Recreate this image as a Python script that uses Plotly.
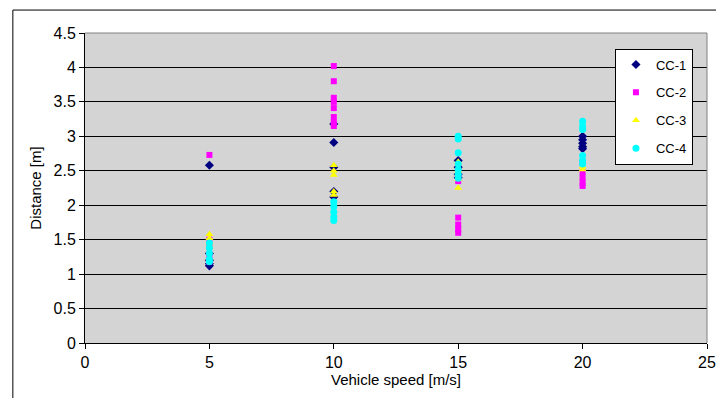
import plotly.graph_objects as go

series_names = ["CC-1", "CC-2", "CC-3", "CC-4"]

cc1_x = [5, 5, 5, 5, 5, 10, 10, 10, 10, 10, 15, 15, 15, 15, 20, 20, 20, 20, 20]
cc1_y = [2.58, 1.12, 1.15, 1.2, 1.3, 3.18, 2.91, 2.2, 2.12, 2.55, 2.65, 2.55, 2.45, 2.4, 3.0, 2.95, 2.9, 2.85, 2.82]

cc2_x = [5, 5, 5, 5, 5, 10, 10, 10, 10, 10, 10, 10, 10, 15, 15, 15, 15, 15, 15, 20, 20, 20, 20, 20]
cc2_y = [2.73, 1.18, 1.25, 1.4, 1.5, 4.02, 3.8, 3.56, 3.5, 3.41, 3.28, 3.2, 3.15, 2.45, 2.35, 1.82, 1.72, 1.65, 1.6, 2.62, 2.48, 2.4, 2.33, 2.28]

cc3_x = [5, 5, 5, 5, 5, 10, 10, 10, 10, 10, 15, 15, 15, 15, 20, 20]
cc3_y = [1.58, 1.52, 1.47, 1.45, 1.4, 2.58, 2.5, 2.44, 2.2, 2.15, 2.63, 2.5, 2.38, 2.25, 2.56, 2.52]

cc4_x = [5, 5, 5, 5, 5, 10, 10, 10, 10, 10, 15, 15, 15, 15, 15, 15, 15, 20, 20, 20, 20, 20, 20]
cc4_y = [1.45, 1.38, 1.3, 1.22, 1.18, 2.05, 1.98, 1.9, 1.83, 1.78, 3.0, 2.96, 2.76, 2.6, 2.52, 2.45, 2.39, 3.22, 3.15, 3.1, 2.72, 2.65, 2.6]

x_ticks = [0, 5, 10, 15, 20, 25]
y_ticks = [0, 0.5, 1, 1.5, 2, 2.5, 3, 3.5, 4, 4.5]
y_tick_labels = ["0", "0.5", "1", "1.5", "2", "2.5", "3", "3.5", "4", "4.5"]

xs = [cc1_x, cc2_x, cc3_x, cc4_x]
ys = [cc1_y, cc2_y, cc3_y, cc4_y]
colors = ["#000080", "#FF00FF", "#FFFF00", "#00FFFF"]
symbols = ["diamond", "square", "triangle-up", "circle"]
sizes = [7, 6, 7, 7]

fig = go.Figure()
for name, x, y, c, s, sz in zip(series_names, xs, ys, colors, symbols, sizes):
    fig.add_trace(go.Scatter(
        x=x, y=y, mode="markers", name=name, legendgroup=name,
        marker=dict(color=c, symbol=s, size=sz, line=dict(width=0)),
    ))

font = "Liberation Sans, Arial, sans-serif"
fig.update_layout(
    width=724, height=398,
    margin=dict(l=77, r=25, t=25, b=63),
    paper_bgcolor="white",
    plot_bgcolor="#d4d4d4",
    font=dict(family=font, size=13, color="black"),
    showlegend=True,
    legend=dict(
        x=0.852, y=0.95, xanchor="left", yanchor="top",
        bgcolor="white", bordercolor="black", borderwidth=1,
        font=dict(size=13), tracegroupgap=8, traceorder="grouped",
        itemwidth=30,
    ),
    xaxis=dict(
        range=[0, 25], tickvals=x_ticks, showgrid=False, zeroline=False,
        showline=True, linecolor="black", linewidth=1,
        ticks="outside", ticklen=5, tickcolor="black",
        tickfont=dict(size=16),
        title=dict(text="Vehicle speed [m/s]", standoff=1, font=dict(size=15)),
        mirror=False,
    ),
    yaxis=dict(
        range=[0, 4.5], tickvals=y_ticks, ticktext=y_tick_labels,
        showgrid=True, gridcolor="black", gridwidth=1, zeroline=False,
        showline=True, linecolor="black", linewidth=1,
        ticks="outside", ticklen=5, tickcolor="black",
        tickfont=dict(size=16),
        title=dict(text="Distance [m]", standoff=8, font=dict(size=15)),
    ),
    shapes=[
        dict(type="line", xref="paper", yref="paper", x0=1, x1=1, y0=0, y1=1,
             line=dict(color="#808080", width=1)),
        dict(type="line", xref="paper", yref="paper", x0=0, x1=1, y0=1, y1=1,
             line=dict(color="#808080", width=1)),
        dict(type="rect", xref="paper", yref="paper", x0=-0.116, x1=1.1, y0=-0.25, y1=1.074,
             line=dict(color="black", width=1), fillcolor="rgba(0,0,0,0)"),
    ],
)

fig.write_html("out.html")
